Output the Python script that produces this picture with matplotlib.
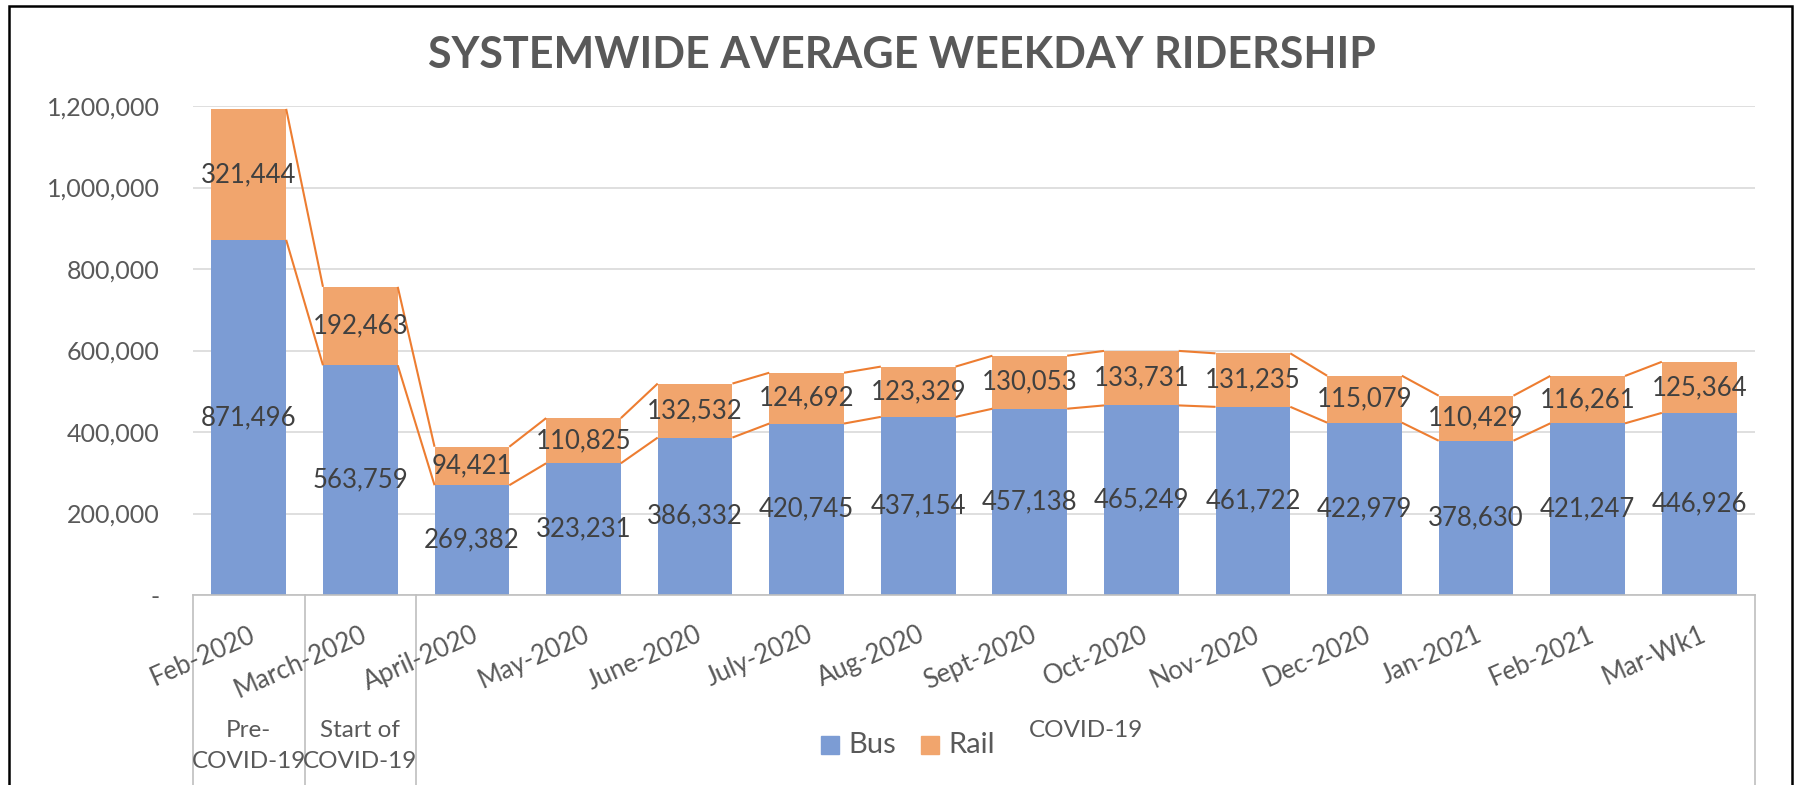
import numpy as np
import matplotlib.pyplot as plt
from matplotlib.patches import Rectangle
from matplotlib.lines import Line2D
from matplotlib.ticker import FuncFormatter

plt.rcParams['font.family'] = ['Lato', 'DejaVu Sans']

months = ["Feb-2020", "March-2020", "April-2020", "May-2020", "June-2020",
          "July-2020", "Aug-2020", "Sept-2020", "Oct-2020", "Nov-2020",
          "Dec-2020", "Jan-2021", "Feb-2021", "Mar-Wk1"]
bus = [871496, 563759, 269382, 323231, 386332, 420745, 437154, 457138,
       465249, 461722, 422979, 378630, 421247, 446926]
rail = [321444, 192463, 94421, 110825, 132532, 124692, 123329, 130053,
        133731, 131235, 115079, 110429, 116261, 125364]
# second-level category groups: (label, first index, last index)
groups = [("Pre-\nCOVID-19", 0, 0), ("Start of\nCOVID-19", 1, 1), ("COVID-19", 2, 13)]

BUS_C = "#7C9CD4"
RAIL_C = "#F1A56D"
LINE_C = "#ED7D31"
TEXT_C = "#595959"
LABEL_C = "#404040"
AXIS_C = "#BFBFBF"
W = 0.67

fig = plt.figure(figsize=(18.01, 7.85), dpi=100)
ax = fig.add_axes([193 / 1801, 190 / 785, (1755 - 193) / 1801, (595 - 106) / 785])

x = np.arange(len(months))
bus = np.array(bus)
rail = np.array(rail)
total = bus + rail

ax.bar(x, bus, W, color=BUS_C, zorder=2)
ax.bar(x, rail, W, bottom=bus, color=RAIL_C, zorder=2)

# series lines between bar tops
for top in (bus, total):
    for i in range(len(x) - 1):
        ax.plot([x[i] + W / 2, x[i + 1] - W / 2], [top[i], top[i + 1]],
                color=LINE_C, lw=1.5, zorder=3, solid_capstyle='butt')

for i in x:
    ax.text(i, bus[i] / 2, f"{bus[i]:,}", ha='center', va='center',
            fontsize=18.5, color=LABEL_C, zorder=4)
    ax.text(i, bus[i] + rail[i] / 2, f"{rail[i]:,}", ha='center', va='center',
            fontsize=18.5, color=LABEL_C, zorder=4)

ax.set_xlim(-0.5, len(months) - 0.5)
ax.set_ylim(0, 1200000)
ax.set_yticks(np.arange(0, 1200001, 200000))
ax.yaxis.set_major_formatter(FuncFormatter(lambda v, p: "-" if v == 0 else f"{int(v):,}"))
ax.tick_params(axis='y', length=0, labelsize=18, labelcolor=TEXT_C, pad=24)
ax.tick_params(axis='x', length=0, labelbottom=False)
ax.grid(axis='y', color='#D9D9D9', lw=1.2, zorder=0)
for s in ('top', 'right', 'left'):
    ax.spines[s].set_visible(False)
ax.spines['bottom'].set_color(AXIS_C)
ax.spines['bottom'].set_linewidth(1.2)

# first-level category labels (rotated)
trans = ax.get_xaxis_transform()
for i, m in enumerate(months):
    ax.annotate(m, xy=(i, 0), xycoords=trans, xytext=(0, -27),
                textcoords='offset pixels', ha='right', va='top', rotation=24,
                rotation_mode='anchor', fontsize=18.5, color=TEXT_C, annotation_clip=False)

# group separators and labels
for lab, a, b in groups:
    ax.add_line(Line2D([a - 0.5, a - 0.5], [0, -0.45], transform=trans, color=AXIS_C,
                       lw=1.2, clip_on=False))
    ax.annotate(lab, xy=((a + b) / 2, 0), xycoords=trans, xytext=(0, -125),
                textcoords='offset pixels', ha='center', va='top', fontsize=17.5,
                color=TEXT_C, linespacing=1.6, annotation_clip=False)
ax.add_line(Line2D([13.5, 13.5], [0, -0.45], transform=trans, color=AXIS_C,
                   lw=1.2, clip_on=False))

# title
fig.text(902 / 1801, 1 - 55 / 785, "SYSTEMWIDE AVERAGE WEEKDAY RIDERSHIP", ha='center',
         va='center', fontsize=31, fontweight='bold', color=TEXT_C)

# legend
leg_y = 1 - 745 / 785
for px, lab, c in ((821, "Bus", BUS_C), (921, "Rail", RAIL_C)):
    fig.patches.append(Rectangle((px / 1801, leg_y - 9 / 785), 18 / 1801, 18 / 785,
                                 transform=fig.transFigure, color=c))
    fig.text((px + 27) / 1801, leg_y, lab, ha='left', va='center', fontsize=21, color=TEXT_C)

# chart border
fig.patches.append(Rectangle((9 / 1801, -0.05), (1792 - 9) / 1801, 1 - 6 / 785 + 0.05,
                             transform=fig.transFigure, fill=False, ec='black', lw=1.8))

fig.savefig("out.png", dpi=100)
